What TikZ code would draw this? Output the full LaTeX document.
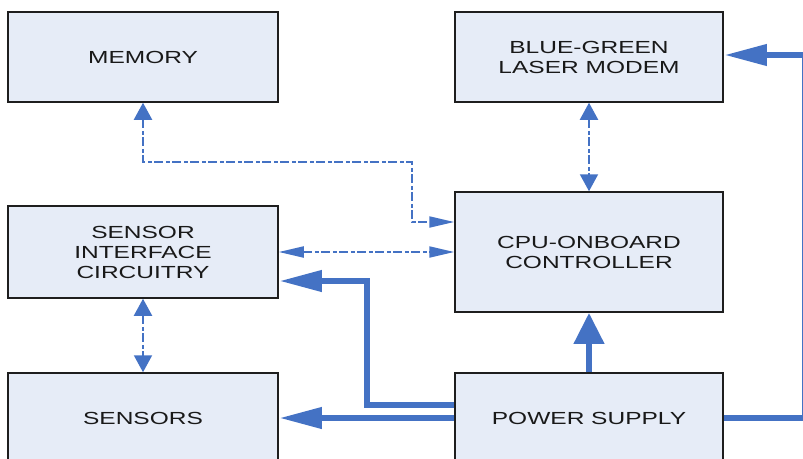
\documentclass[tikz,border=0pt]{standalone}
\usepackage{fontspec}
\newfontfamily\boxfont[FakeStretch=1.4]{Liberation Sans}
\usetikzlibrary{arrows.meta}
\definecolor{boxfill}{RGB}{230,236,247}
\definecolor{boxline}{RGB}{30,30,30}
\definecolor{linkblue}{RGB}{68,114,196}
\definecolor{txt}{RGB}{25,25,25}
\tikzset{
  blockbox/.style={draw=boxline, line width=1.5pt, fill=boxfill, text=txt,
    minimum width=#1, align=center, inner sep=0pt,
    font=\boxfont\fontsize{17.5pt}{20pt}\selectfont},
  dashlink/.style={draw=linkblue, line width=2pt, dash pattern=on 9pt off 2.5pt on 4pt off 2.5pt},
  powerlink/.style={draw=linkblue, line width=6.8pt},
  vtip/.tip={Triangle[length=17pt, width=18pt]},
  htip/.tip={Triangle[length=25pt, width=11pt]},
  bigv/.tip={Triangle[length=31pt, width=29pt]},
  bigh/.tip={Triangle[length=43pt, width=20pt]},
}
\begin{document}
\begin{tikzpicture}[x=1pt, y=-1pt]
\useasboundingbox (0,0) rectangle (803,458);
\clip (0,0) rectangle (803,458);
\node[blockbox=270pt, minimum height=90pt] (mem) at (143,57) {MEMORY};
\node[blockbox=268pt, minimum height=90pt] (modem) at (589,57) {BLUE-GREEN\\LASER MODEM};
\node[blockbox=270pt, minimum height=92pt] (sic) at (143,252) {SENSOR\\INTERFACE\\CIRCUITRY};
\node[blockbox=268pt, minimum height=120pt] (cpu) at (589,252) {CPU-ONBOARD\\CONTROLLER};
\node[blockbox=270pt, minimum height=90pt] (sens) at (143,418) {SENSORS};
\node[blockbox=268pt, minimum height=90pt] (ps) at (589,418) {POWER SUPPLY};
% dashed data links
\coordinate (m1) at (412,162);
\draw[dashlink, {vtip}-{htip}] (mem.south) |- (m1) |- ([yshift=30pt]cpu.west);
\draw[dashlink, {htip}-{htip}] (sic.east) -- (cpu.west);
\draw[dashlink, {vtip}-{vtip}] (modem.south) -- (cpu.north);
\draw[dashlink, {vtip}-{vtip}] (sic.south) -- (sens.north);
% power links
\draw[powerlink, -{bigv}] (ps.north) -- (cpu.south);
\draw[powerlink, -{bigh}] (ps.west) -- (sens.east);
\coordinate (p1) at (367,281);
\draw[powerlink, -{bigh}] ([yshift=13pt]ps.west) -| (p1) -- (sic.east |- p1);
\coordinate (r1) at (805,418);
\coordinate (r2) at (805,55);
\draw[powerlink, -{bigh}] (ps.east) -- (r1) -- (r2) -- (modem.east |- r2);
\end{tikzpicture}
\end{document}
